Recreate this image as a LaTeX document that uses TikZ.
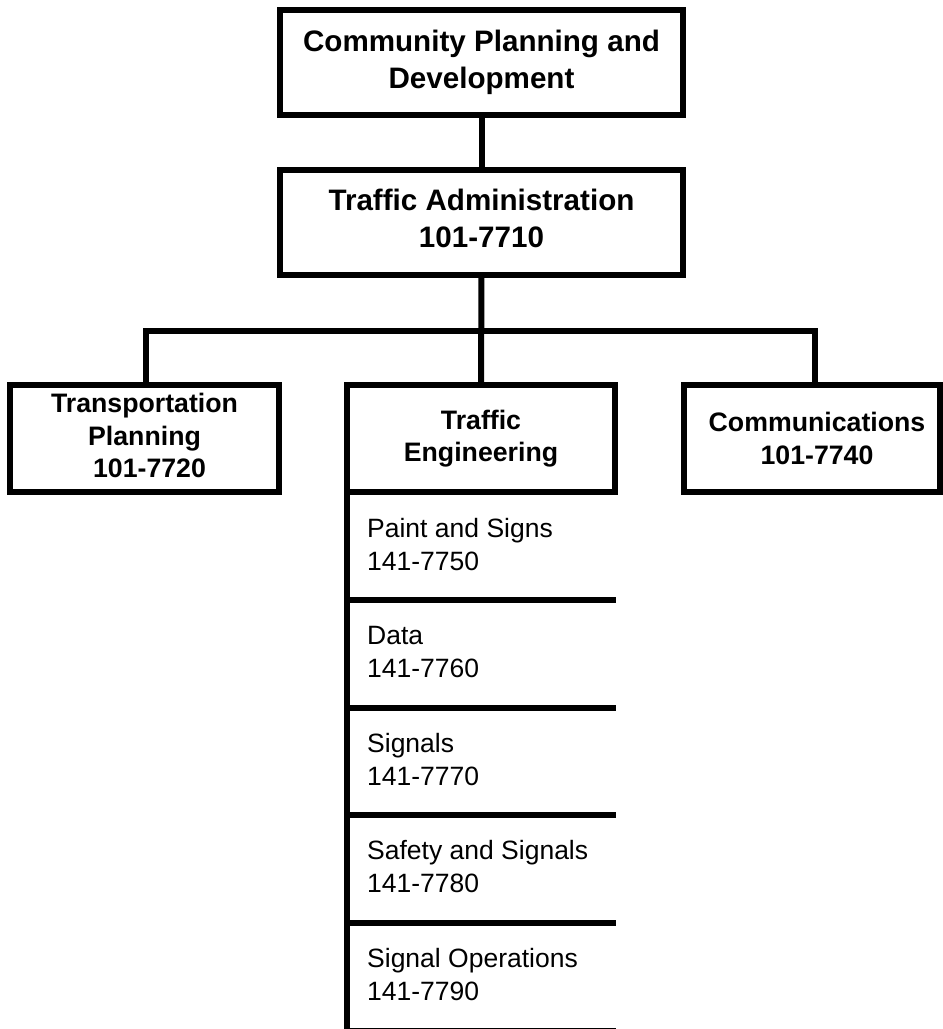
\documentclass[tikz,border=0pt]{standalone}
\usepackage{fontspec}
\setmainfont{Liberation Sans}
\begin{document}
\begin{tikzpicture}[x=1pt,y=-1pt,
  orgbox/.style={draw, line width=6pt, rectangle, align=center, inner sep=0pt, outer sep=0pt},
  bigtext/.style={font=\fontsize{29.6}{37}\selectfont\bfseries},
  midtext/.style={font=\fontsize{26.7}{32.5}\selectfont\bfseries},
  rowtext/.style={font=\fontsize{26.5}{33}\selectfont, anchor=base west, inner sep=0pt},
  wire/.style={line width=6pt}]
\useasboundingbox (0,0) rectangle (943,1029);
% boxes
\node[orgbox,bigtext,minimum width=403pt,minimum height=105pt] (cpd) at (481.5,62.5) {Community Planning and\\Development};
\node[orgbox,bigtext,minimum width=403pt,minimum height=105pt] (ta) at (481.5,222.5) {Traffic Administration\\101-7710\rule[-8pt]{0pt}{0pt}};
\node[orgbox,midtext,minimum width=269pt,minimum height=107pt] (tp) at (144.5,438.5) {Transportation\\Planning\\\hspace*{10pt}101-7720\rule[-6pt]{0pt}{0pt}};
\node[orgbox,midtext,minimum width=268pt,minimum height=107pt] (te) at (481,438.5) {Traffic\\Engineering};
\node[orgbox,midtext,minimum width=256pt,minimum height=107pt] (com) at (812,438.5) {\hspace*{10pt}Communications\\\hspace*{10pt}101-7740};
% connectors
\coordinate (bus) at (481,331);
\draw[wire] (cpd.south) -- (ta.north);
\draw[wire] (ta.south) -- (te.north);
\draw[wire] ([xshift=1.5pt]tp.north) |- (bus) -| ([xshift=3pt]com.north);
% sub-unit list
\draw[wire] (te.south west) -- ++(0,560);
\foreach \y in {600,708,815,923,1031} {
  \draw[wire] (347,\y) -- (616,\y);
}
\node[rowtext] (r1) at (367,537) {\parbox[t]{240pt}{\raggedright Paint and Signs\\141-7750}};
\node[rowtext] (r2) at (367,644) {\parbox[t]{240pt}{\raggedright Data\\141-7760}};
\node[rowtext] (r3) at (367,752) {\parbox[t]{240pt}{\raggedright Signals\\141-7770}};
\node[rowtext] (r4) at (367,859) {\parbox[t]{240pt}{\raggedright Safety and Signals\\141-7780}};
\node[rowtext] (r5) at (367,967) {\parbox[t]{240pt}{\raggedright Signal Operations\\141-7790}};
\end{tikzpicture}
\end{document}
